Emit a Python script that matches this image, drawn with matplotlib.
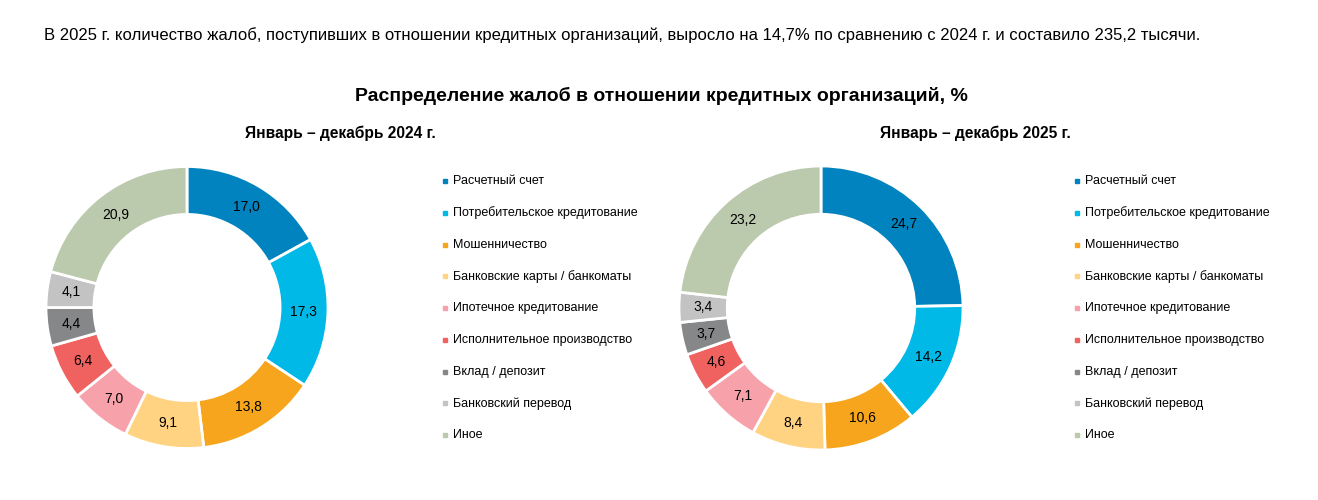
import matplotlib
matplotlib.use("Agg")
import matplotlib.pyplot as plt
import numpy as np

plt.rcParams['font.family'] = ['Liberation Sans', 'DejaVu Sans']

# ===== данные =====
categories = [
    "Расчетный счет",
    "Потребительское кредитование",
    "Мошенничество",
    "Банковские карты / банкоматы",
    "Ипотечное кредитование",
    "Исполнительное производство",
    "Вклад / депозит",
    "Банковский перевод",
    "Иное",
]
values_2024 = [17.0, 17.3, 13.8, 9.1, 7.0, 6.4, 4.4, 4.1, 20.9]
values_2025 = [24.7, 14.2, 10.6, 8.4, 7.1, 4.6, 3.7, 3.4, 23.2]
colors = ["#0083be", "#00b9e6", "#f7a51c", "#ffd382", "#f7a1ab",
          "#f0625f", "#868789", "#c3c3c3", "#bbc9ad"]

headline = ("В 2025 г. количество жалоб, поступивших в отношении кредитных организаций, "
            "выросло на 14,7% по сравнению с 2024 г. и составило 235,2 тысячи.")
title = "Распределение жалоб в отношении кредитных организаций, %"
sub_2024 = "Январь – декабрь 2024 г."
sub_2025 = "Январь – декабрь 2025 г."

W, H = 1318, 500
fig = plt.figure(figsize=(W / 100, H / 100), dpi=100)

# оверлей в пиксельных координатах для текста и легенды
ov = fig.add_axes([0, 0, 1, 1])
ov.set_xlim(0, W)
ov.set_ylim(H, 0)
ov.axis("off")


def donut(cx, cy, r, vals):
    ax = fig.add_axes([(cx - r) / W, (H - cy - r) / H, 2 * r / W, 2 * r / H])
    ax.pie(vals, colors=colors, startangle=90, counterclock=False,
           radius=1, wedgeprops=dict(width=0.34, edgecolor="white", linewidth=2))
    ax.set_xlim(-1, 1)
    ax.set_ylim(-1, 1)
    ax.set_aspect("equal")
    total = sum(vals)
    ang = 90.0
    for v in vals:
        mid = np.deg2rad(ang - v / total * 360 / 2)
        ax.text(0.83 * np.cos(mid), 0.83 * np.sin(mid), f"{v:.1f}".replace(".", ","),
                ha="center", va="center", fontsize=10, color="black")
        ang -= v / total * 360


def legend(x, y0, step):
    for i, (c, lab) in enumerate(zip(colors, categories)):
        y = y0 + i * step
        ov.plot([x], [y], marker="s", markersize=2.8, color=c, linestyle="none")
        ov.text(x + 8, y, lab, ha="left", va="center", fontsize=9.0, color="black")


donut(187, 307.5, 141, values_2024)
donut(821, 308, 142, values_2025)
legend(445, 181, 31.75)
legend(1077, 181, 31.75)

ov.text(44, 35, headline, ha="left", va="center", fontsize=11.95, color="black")
ov.text(661, 96, title, ha="center", va="center", fontsize=14, fontweight="bold", color="black")
ov.text(340, 133, sub_2024, ha="center", va="center", fontsize=11.2, fontweight="bold", color="black")
ov.text(975, 133, sub_2025, ha="center", va="center", fontsize=11.2, fontweight="bold", color="black")

fig.savefig("out.png", dpi=100)
